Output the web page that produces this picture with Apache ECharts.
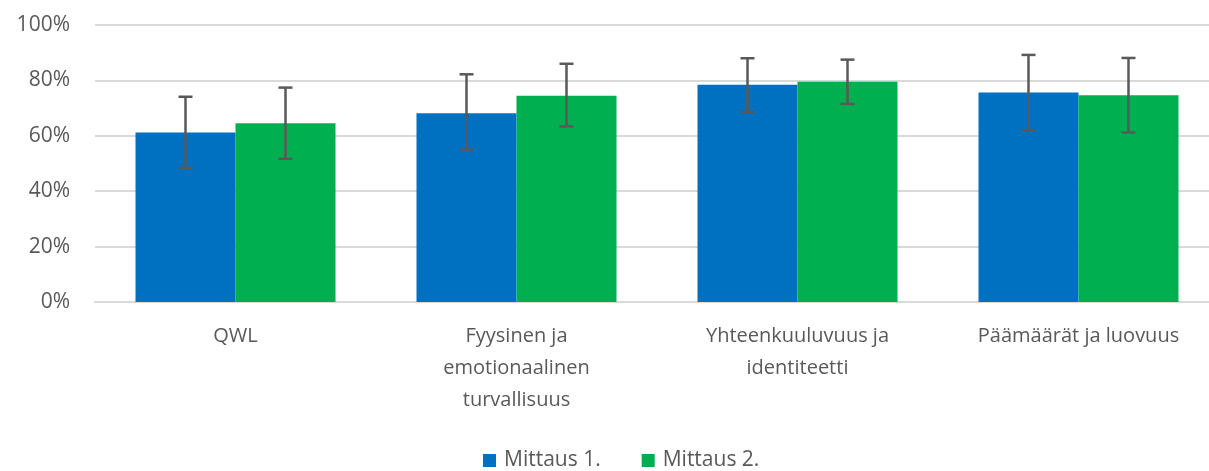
<!DOCTYPE html>
<html>
<head>
    <meta charset="utf-8">
    <title>Mittaukset</title>
    <script src="https://cdn.jsdelivr.net/npm/echarts@6/dist/echarts.min.js"></script>
</head>
<style>
    body { margin: 0; background: #fff; }
</style>
<body>
    <div id="main" style="width: 1209px;height:471px;"></div>
    <script type="text/javascript">
        // data (percent)
        var categories = ['QWL', 'Fyysinen ja\nemotionaalinen\nturvallisuus', 'Yhteenkuuluvuus ja\nidentiteetti', 'Päämäärät ja luovuus'];
        var mittaus1 = [61.2, 68.1, 78.4, 75.6];
        var mittaus2 = [64.5, 74.5, 79.5, 74.6];
        // error bar ends [low, high]
        var err1 = [[48.4, 74.1], [55.0, 82.2], [68.6, 88.0], [62.0, 89.2]];
        var err2 = [[51.7, 77.4], [63.4, 86.0], [71.5, 87.5], [61.2, 88.1]];
        var yTicks = [0, 20, 40, 60, 80, 100];

        var myChart = echarts.init(document.getElementById('main'));

        var barW = 100;
        function errorSeries(name, data, offset) {
            return {
                type: 'custom',
                name: name,
                z: 10,
                data: data.map(function (d, i) { return [i, d[0], d[1]]; }),
                renderItem: function (params, api) {
                    var lo = api.coord([api.value(0), api.value(1)]);
                    var hi = api.coord([api.value(0), api.value(2)]);
                    var x = lo[0] + offset;
                    var cap = 7;
                    var st = { stroke: '#595959', lineWidth: 2.5 };
                    return {
                        type: 'group',
                        children: [
                            { type: 'line', shape: { x1: x, y1: hi[1], x2: x, y2: lo[1] }, style: st },
                            { type: 'line', shape: { x1: x - cap, y1: hi[1], x2: x + cap, y2: hi[1] }, style: st },
                            { type: 'line', shape: { x1: x - cap, y1: lo[1], x2: x + cap, y2: lo[1] }, style: st }
                        ]
                    };
                }
            };
        }

        var option = {
            animation: false,
            textStyle: { fontFamily: 'Open Sans' },
            legend: {
                data: ['Mittaus 1.', 'Mittaus 2.'],
                bottom: 0,
                left: 483,
                padding: 0,
                itemWidth: 13,
                itemHeight: 13,
                itemGap: 41,
                icon: 'rect',
                textStyle: { fontSize: 21, color: '#595959', fontFamily: 'Open Sans', padding: [0, 0, 0, 3] }
            },
            grid: {
                left: 95,
                top: 25,
                width: 1124,
                bottom: 169,
                outerBoundsMode: 'none'
            },
            xAxis: {
                type: 'category',
                data: categories,
                axisLine: { lineStyle: { color: '#d9d9d9', width: 2 } },
                axisTick: { show: false },
                axisLabel: {
                    color: '#595959',
                    fontSize: 20,
                    lineHeight: 32,
                    margin: 18,
                    interval: 0
                }
            },
            yAxis: {
                type: 'value',
                min: 0,
                max: 100,
                interval: 20,
                axisLine: { show: false },
                axisTick: { show: false },
                splitLine: { lineStyle: { color: '#d9d9d9', width: 2 } },
                axisLabel: {
                    color: '#595959',
                    fontSize: 21,
                    margin: 25,
                    formatter: function (v) { return yTicks.indexOf(v) >= 0 ? v + '%' : ''; }
                }
            },
            series: [
                {
                    name: 'Mittaus 1.',
                    type: 'bar',
                    data: mittaus1,
                    barWidth: barW,
                    barGap: '0%',
                    itemStyle: { color: '#0070c0' }
                },
                {
                    name: 'Mittaus 2.',
                    type: 'bar',
                    data: mittaus2,
                    barWidth: barW,
                    barGap: '0%',
                    itemStyle: { color: '#00b050' }
                },
                errorSeries('err1', err1, -barW / 2),
                errorSeries('err2', err2, barW / 2)
            ]
        };
        myChart.setOption(option);
    </script>
</body>
</html>
